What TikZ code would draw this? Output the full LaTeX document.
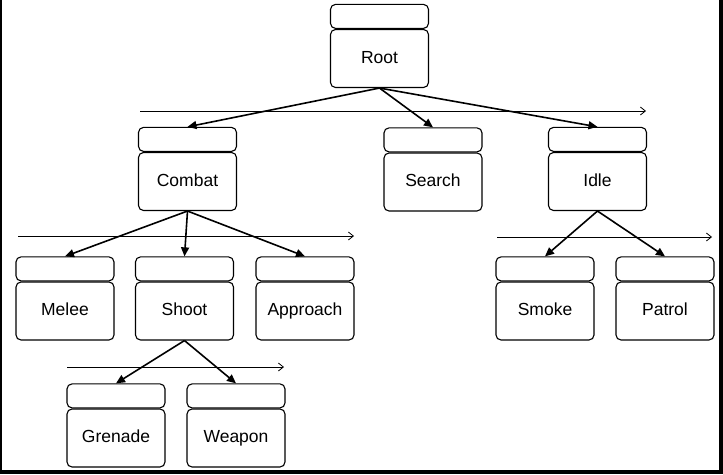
\documentclass[tikz,border=0pt]{standalone}
\usepackage{fontspec}
\setmainfont{Liberation Sans}
\usepackage{tikz}
\usetikzlibrary{arrows.meta,positioning}

\begin{document}
\begin{tikzpicture}[x=1pt,y=-1pt,font=\fontsize{17.5}{20}\selectfont,>=Latex]
\tikzset{body/.style={draw,line width=1.1pt,rounded corners=5pt,minimum width=98pt,minimum height=58pt,inner sep=0pt,text height=12.5pt,text depth=3.5pt},
  tab/.style={draw,line width=1.1pt,rounded corners=5pt,minimum width=98pt,minimum height=24pt,inner sep=0pt},
  edge/.style={->,line width=1.6pt,>={Triangle[length=9pt,width=8pt]}},
  order/.style={->,line width=0.8pt,>={Straight Barb[length=5pt,width=8pt]}}}
\useasboundingbox (0,0) rectangle (723,474);
\draw[line width=2pt] (1,0) -- (1,474);
\draw[line width=4pt] (721,0) -- (721,472) -- (0,472);
% top level
\node[body] (root) at (379.5,58.5) {Root};
\node[tab,above=0pt of root] (roottab) {};
% second level
\node[body] (combat) at (187.5,181.5) {Combat};
\node[tab,above=0pt of combat] (combattab) {};
\node[body] (search) at (433,182) {Search};
\node[tab,above=0pt of search] (searchtab) {};
\node[body] (idle) at (597.5,181.5) {Idle};
\node[tab,above=0pt of idle] (idletab) {};
% third level
\node[body] (melee) at (65,311) {Melee};
\node[tab,above=0pt of melee] (meleetab) {};
\node[body] (shoot) at (184.5,311) {Shoot};
\node[tab,above=0pt of shoot] (shoottab) {};
\node[body] (approach) at (305,311) {Approach};
\node[tab,above=0pt of approach] (approachtab) {};
\node[body] (smoke) at (545,311) {Smoke};
\node[tab,above=0pt of smoke] (smoketab) {};
\node[body] (patrol) at (665,311) {Patrol};
\node[tab,above=0pt of patrol] (patroltab) {};
% fourth level
\node[body] (grenade) at (116,438) {Grenade};
\node[tab,above=0pt of grenade] (grenadetab) {};
\node[body] (weapon) at (236,438) {Weapon};
\node[tab,above=0pt of weapon] (weapontab) {};
% order arrows
\coordinate (o1s) at (140,111); \coordinate (o1e) at (646,111);
\coordinate (o2s) at (18,236); \coordinate (o2e) at (354,236);
\coordinate (o3s) at (497,237); \coordinate (o3e) at (712,237);
\coordinate (o4s) at (67,367); \coordinate (o4e) at (284,367);
\draw[order] (o1s) -- (o1e);
\draw[order] (o2s) -- (o2e);
\draw[order] (o3s) -- (o3e);
\draw[order] (o4s) -- (o4e);
% tree edges
\draw[edge] (root.south) -- (combattab.north);
\draw[edge] (root.south) -- (searchtab.north);
\draw[edge] (root.south) -- (idletab.north);
\draw[edge] (combat.south) -- (meleetab.north);
\draw[edge] (combat.south) -- (shoottab.north);
\draw[edge] (combat.south) -- (approachtab.north);
\draw[edge] (idle.south) -- (smoketab.north);
\draw[edge] (idle.south) -- (patroltab.north);
\draw[edge] (shoot.south) -- (grenadetab.north);
\draw[edge] (shoot.south) -- (weapontab.north);
\end{tikzpicture}
\end{document}
